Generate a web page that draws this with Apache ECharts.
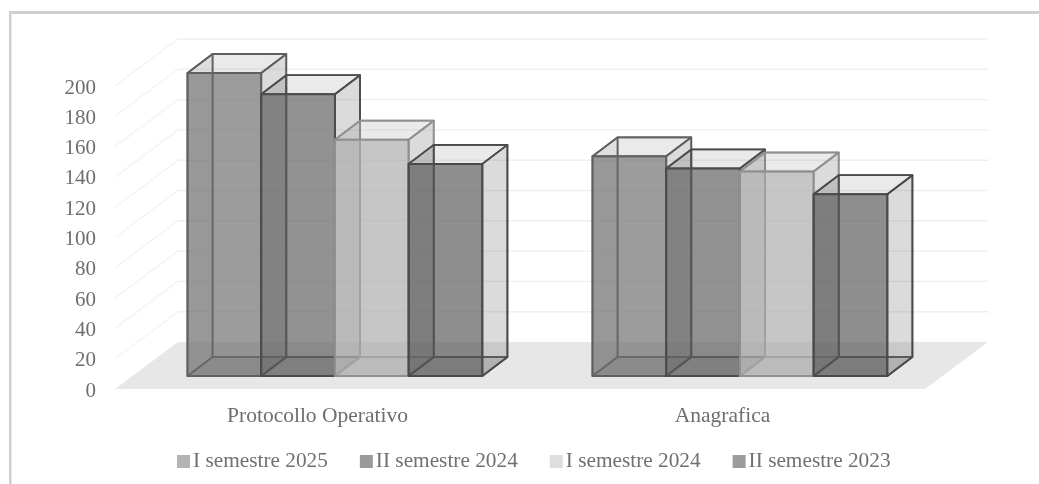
<!DOCTYPE html>
<html><head><meta charset="utf-8">
<style>html,body{margin:0;padding:0;background:#fff}#c{width:1039px;height:484px;filter:blur(0.5px)}</style>
<script src="https://cdn.jsdelivr.net/npm/echarts@6/dist/echarts.min.js"></script>
</head><body><div id="c"></div>
<script>
const categories = ['Protocollo Operativo', 'Anagrafica'];
const seriesNames = ['I semestre 2025', 'II semestre 2024', 'I semestre 2024', 'II semestre 2023'];
const s2025I = [200, 145];
const s2024II = [186, 137];
const s2024I = [156, 135];
const s2023II = [140, 120];
const ticks = [0, 20, 40, 60, 80, 100, 120, 140, 160, 180, 200];
const seriesValues = [s2025I, s2024II, s2024I, s2023II];
const legendColors = ['#b4b4b4', '#9a9a9a', '#dedede', '#9c9c9c'];
const baseGray = [[108,108,108],[92,92,92],[172,172,172],[86,86,86]];
const edgeColors = ['#606060', '#4c4c4c', '#909090', '#4a4a4a'];
const sideGray = [120,120,120];

const WALL = {dx: 63, dy: -47};
const BF = {dx: 17.4, dy: -13};
const BB = {dx: 42.5, dy: -32};
const BW = 0.182;

function rgba(c, a) { return 'rgba(' + c[0] + ',' + c[1] + ',' + c[2] + ',' + a + ')'; }
function boxItem(si) {
  return function (params, api) {
    const cat = api.value(0), v = api.value(1);
    const t = api.coord([cat, v]), b = api.coord([cat, 0]);
    const bw = api.size([1, 0])[0] * BW;
    const x0 = t[0] + (si - 2) * bw, x1 = x0 + bw;
    const p = (x, y, d) => [x + d.dx, y + d.dy];
    const fbl = p(x0, b[1], BF), fbr = p(x1, b[1], BF), ftl = p(x0, t[1], BF), ftr = p(x1, t[1], BF);
    const bbl = p(x0, b[1], BB), bbr = p(x1, b[1], BB), btl = p(x0, t[1], BB), btr = p(x1, t[1], BB);
    const c = baseGray[si], e = edgeColors[si];
    const face = (pts, col, a, lw) => ({type: 'polygon', shape: {points: pts},
      style: {fill: rgba(col, a), stroke: e, lineWidth: lw, lineJoin: 'round'}});
    return {type: 'group', children: [
      face([bbl, bbr, btr, btl], sideGray, 0.04, 1.6),
      face([fbl, bbl, btl, ftl], c, 0.12, 1.6),
      face([fbl, fbr, bbr, bbl], c, 0.25, 1.6),
      face([ftl, ftr, btr, btl], sideGray, 0.12, 1.8),
      face([fbr, bbr, btr, ftr], sideGray, 0.24, 1.8),
      face([fbl, fbr, ftr, ftl], c, 0.66, 2)
    ]};
  };
}
function floorItem(params, api) {
  const v = api.value(1);
  const a = api.coord([0, v]), b = api.coord([1, v]);
  const band = api.size([1, 0])[0];
  const xl = a[0] - band / 2, xr = b[0] + band / 2, y = a[1];
  const children = [];
  if (v === 0) {
    children.push({type: 'polygon', shape: {points: [[xl, y], [xr, y], [xr + WALL.dx, y + WALL.dy], [xl + WALL.dx, y + WALL.dy]]},
      style: {fill: '#e7e7e7'}});
  } else {
    children.push({type: 'line', shape: {x1: xl, y1: y, x2: xl + WALL.dx, y2: y + WALL.dy},
      style: {stroke: '#f4f4f4', lineWidth: 1.4}});
    children.push({type: 'line', shape: {x1: xl + WALL.dx, y1: y + WALL.dy, x2: xr + WALL.dx, y2: y + WALL.dy},
      style: {stroke: '#efefef', lineWidth: 1.4}});
  }
  return {type: 'group', children};
}
const chart = echarts.init(document.getElementById('c'), null, {renderer: 'canvas'});
const font = '"Liberation Serif", "Times New Roman", serif';
chart.setOption({
  animation: false,
  backgroundColor: '#fff',
  textStyle: {fontFamily: font},
  graphic: [
    {type: 'rect', silent: true, shape: {x: 9, y: 11, width: 1030, height: 3}, style: {fill: '#cfcfcf'}},
    {type: 'rect', silent: true, shape: {x: 9, y: 11, width: 2.5, height: 473}, style: {fill: '#cfcfcf'}}
  ],
  grid: {left: 115, top: 86, width: 810, height: 303, containLabel: false},
  legend: {
    data: seriesNames.map((n, i) => ({name: n, itemStyle: {color: legendColors[i], borderWidth: 0}})),
    left: 172, top: 446, itemWidth: 13, itemHeight: 13, itemGap: 32, icon: 'rect',
    selectedMode: false,
    textStyle: {fontFamily: font, fontSize: 21.3, color: '#707070', padding: [0, 0, 0, -2]}
  },
  xAxis: {type: 'category', data: categories, axisLine: {show: false}, axisTick: {show: false},
    splitLine: {show: false},
    axisLabel: {fontFamily: font, fontSize: 21.5, color: '#6e6e6e', margin: 16}},
  yAxis: {type: 'value', min: 0, max: 200, interval: 20, axisLine: {show: false}, axisTick: {show: false},
    splitLine: {show: false},
    axisLabel: {fontFamily: font, fontSize: 21, color: '#6e6e6e', margin: 19, verticalAlign: 'top', lineHeight: 4}},
  series: [
    {type: 'custom', name: 'grid', silent: true, clip: false, z: 1, renderItem: floorItem,
      encode: {x: 0, y: 1}, data: ticks.map(t => [0, t])}
  ].concat(seriesNames.map((n, i) => ({
    type: 'custom', name: n, z: 2 + i, clip: false, silent: true, renderItem: boxItem(i),
    itemStyle: {color: legendColors[i]},
    encode: {x: 0, y: 1}, data: seriesValues[i].map((v, k) => [k, v])
  })))
});
</script></body></html>
